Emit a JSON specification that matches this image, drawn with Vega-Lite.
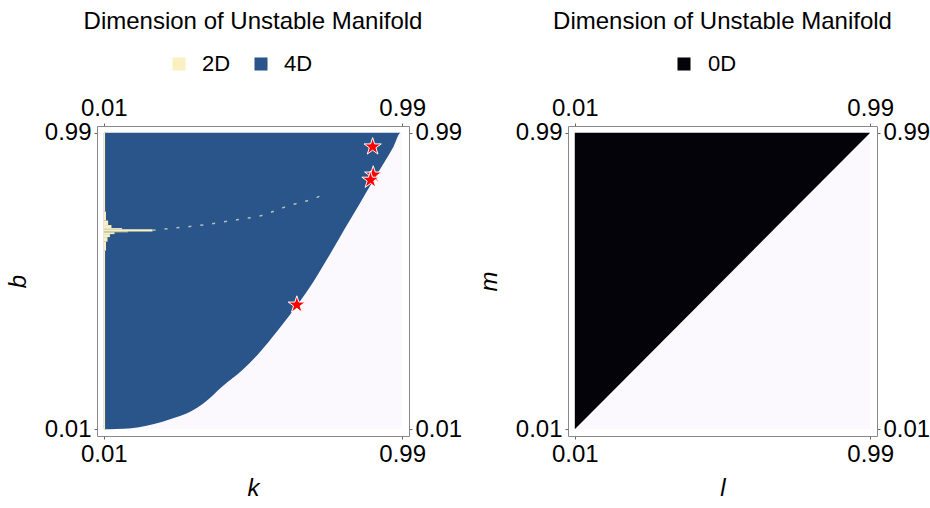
{
  "$schema": "https://vega.github.io/schema/vega-lite/v6.json",
  "padding": {"left": 6, "top": 10, "right": 0, "bottom": 4},
  "spacing": 15,
  "config": {
    "font": "Liberation Sans, Arial, Helvetica, sans-serif",
    "view": {"stroke": null},
    "axis": {
      "grid": false,
      "labelFontSize": 24,
      "labelColor": "#000000",
      "labelFont": "Liberation Sans, Arial, Helvetica, sans-serif",
      "labelFlush": false,
      "labelOverlap": false,
      "domainColor": "#888888",
      "domainWidth": 1,
      "tickColor": "#666666",
      "tickSize": 3,
      "labelPadding": 3,
      "titleFont": "Liberation Sans, Arial, Helvetica, sans-serif",
      "titleFontSize": 24,
      "titleFontStyle": "italic",
      "titleFontWeight": "normal",
      "titleColor": "#000000"
    },
    "title": {"fontSize": 24, "fontWeight": "normal", "color": "#000000", "font": "Liberation Sans, Arial, Helvetica, sans-serif"},
    "legend": {"labelFontSize": 22, "labelColor": "#000000", "labelFont": "Liberation Sans, Arial, Helvetica, sans-serif"}
  },
  "resolve": {"scale": {"color": "independent"}, "legend": {"color": "independent"}},
  "hconcat": [
    {
      "width": 312,
      "height": 310,
      "title": {"text": "Dimension of Unstable Manifold", "anchor": "middle", "offset": 19},
      "resolve": {"axis": {"x": "independent", "y": "independent"}},
      "layer": [
        {
          "data": {"values": [{"k0": 0.01, "k1": 0.99, "b0": 0.01, "b1": 0.99}]},
          "mark": {"type": "rect", "color": "#fbf9fd"},
          "encoding": {
            "x": {"field": "k0", "type": "quantitative", "scale": {"domain": [-0.0125, 1.0125], "nice": false, "zero": false}, "axis": {"orient": "bottom", "title": "k", "titlePadding": 10, "values": [0.01, 0.99], "format": ".2f"}},
            "x2": {"field": "k1"},
            "y": {"field": "b0", "type": "quantitative", "scale": {"domain": [-0.0125, 1.0125], "nice": false, "zero": false}, "axis": {"orient": "left", "title": "b", "titlePadding": 14, "values": [0.01, 0.99], "format": ".2f"}},
            "y2": {"field": "b1"}
          }
        },
        {
          "data": {"values": [{"k0": 0.01, "k1": 0.99, "b0": 0.01, "b1": 0.99}]},
          "mark": {"type": "rect", "opacity": 0},
          "encoding": {
            "x": {"field": "k0", "type": "quantitative", "axis": {"orient": "top", "title": null, "values": [0.01, 0.99], "format": ".2f"}},
            "x2": {"field": "k1"},
            "y": {"field": "b0", "type": "quantitative", "axis": {"orient": "right", "title": null, "values": [0.01, 0.99], "format": ".2f"}},
            "y2": {"field": "b1"}
          }
        },
        {
          "data": {"values": [
            {"k": 0.01, "b": 0.01, "top": 0.99, "dim": "4D"},
            {"k": 0.05, "b": 0.011, "top": 0.99, "dim": "4D"},
            {"k": 0.1, "b": 0.013, "top": 0.99, "dim": "4D"},
            {"k": 0.15, "b": 0.021, "top": 0.99, "dim": "4D"},
            {"k": 0.2, "b": 0.034, "top": 0.99, "dim": "4D"},
            {"k": 0.25, "b": 0.05, "top": 0.99, "dim": "4D"},
            {"k": 0.292, "b": 0.067, "top": 0.99, "dim": "4D"},
            {"k": 0.341, "b": 0.098, "top": 0.99, "dim": "4D"},
            {"k": 0.4, "b": 0.152, "top": 0.99, "dim": "4D"},
            {"k": 0.467, "b": 0.207, "top": 0.99, "dim": "4D"},
            {"k": 0.521, "b": 0.263, "top": 0.99, "dim": "4D"},
            {"k": 0.58, "b": 0.335, "top": 0.99, "dim": "4D"},
            {"k": 0.644, "b": 0.418, "top": 0.99, "dim": "4D"},
            {"k": 0.7, "b": 0.5, "top": 0.99, "dim": "4D"},
            {"k": 0.751, "b": 0.585, "top": 0.99, "dim": "4D"},
            {"k": 0.8, "b": 0.67, "top": 0.99, "dim": "4D"},
            {"k": 0.85, "b": 0.755, "top": 0.99, "dim": "4D"},
            {"k": 0.882, "b": 0.81, "top": 0.99, "dim": "4D"},
            {"k": 0.93, "b": 0.89, "top": 0.99, "dim": "4D"},
            {"k": 0.962, "b": 0.945, "top": 0.99, "dim": "4D"},
            {"k": 0.985, "b": 0.99, "top": 0.99, "dim": "4D"},
            {"k": 0.99, "b": 0.99, "top": 0.99, "dim": "4D"}
          ]},
          "mark": {"type": "area", "interpolate": "monotone"},
          "encoding": {
            "x": {"field": "k", "type": "quantitative", "axis": null},
            "y": {"field": "b", "type": "quantitative", "axis": null, "stack": null},
            "y2": {"field": "top"},
            "color": {
              "field": "dim", "type": "nominal",
              "scale": {"domain": ["2D", "4D"], "range": ["#fbf0c0", "#29558a"]},
              "legend": {"orient": "none", "legendX": 71, "legendY": -73, "direction": "horizontal", "title": null, "symbolType": "square", "symbolSize": 170, "symbolStrokeWidth": 0, "columnPadding": 19, "labelOffset": 12}
            }
          }
        },
        {
          "data": {"values": [
            {"b0": 0.01, "b1": 0.6, "kedge": 0.014, "k0": 0.01, "dim": "2D"},
            {"b0": 0.6, "b1": 0.63, "kedge": 0.017, "k0": 0.01, "dim": "2D"},
            {"b0": 0.63, "b1": 0.645, "kedge": 0.022, "k0": 0.01, "dim": "2D"},
            {"b0": 0.645, "b1": 0.655, "kedge": 0.03, "k0": 0.01, "dim": "2D"},
            {"b0": 0.655, "b1": 0.661, "kedge": 0.045, "k0": 0.01, "dim": "2D"},
            {"b0": 0.661, "b1": 0.664, "kedge": 0.09, "k0": 0.01, "dim": "2D"},
            {"b0": 0.664, "b1": 0.671, "kedge": 0.17, "k0": 0.01, "dim": "2D"},
            {"b0": 0.671, "b1": 0.675, "kedge": 0.07, "k0": 0.01, "dim": "2D"},
            {"b0": 0.675, "b1": 0.685, "kedge": 0.035, "k0": 0.01, "dim": "2D"},
            {"b0": 0.685, "b1": 0.7, "kedge": 0.024, "k0": 0.01, "dim": "2D"},
            {"b0": 0.7, "b1": 0.73, "kedge": 0.017, "k0": 0.01, "dim": "2D"},
            {"b0": 0.73, "b1": 0.99, "kedge": 0.014, "k0": 0.01, "dim": "2D"}
          ]},
          "mark": {"type": "rect"},
          "encoding": {
            "y": {"field": "b0", "type": "quantitative", "axis": null},
            "y2": {"field": "b1"},
            "x": {"field": "k0", "type": "quantitative", "axis": null},
            "x2": {"field": "kedge"},
            "color": {"field": "dim", "type": "nominal"}
          }
        },
        {
          "data": {"values": [
            {"k": 0.17, "b": 0.668},
            {"k": 0.199, "b": 0.671},
            {"k": 0.325, "b": 0.684},
            {"k": 0.456, "b": 0.704},
            {"k": 0.521, "b": 0.715},
            {"k": 0.62, "b": 0.75},
            {"k": 0.707, "b": 0.775},
            {"k": 0.74, "b": 0.79}
          ]},
          "mark": {"type": "line", "color": "#b8c2b0", "strokeWidth": 1.5, "strokeDash": [3, 9], "interpolate": "monotone"},
          "encoding": {
            "x": {"field": "k", "type": "quantitative", "axis": null},
            "y": {"field": "b", "type": "quantitative", "axis": null}
          }
        },
        {
          "data": {"values": [
            {"k": 0.893, "b": 0.944},
            {"k": 0.895, "b": 0.851},
            {"k": 0.886, "b": 0.834},
            {"k": 0.644, "b": 0.421}
          ]},
          "mark": {"type": "point", "shape": "M0,-1L0.2245,-0.309L0.951,-0.309L0.363,0.118L0.588,0.809L0,0.382L-0.588,0.809L-0.363,0.118L-0.951,-0.309L-0.2245,-0.309Z", "filled": true, "fill": "#ff0000", "stroke": "#ffffff", "strokeWidth": 1, "opacity": 1, "size": 330},
          "encoding": {
            "x": {"field": "k", "type": "quantitative", "axis": null},
            "y": {"field": "b", "type": "quantitative", "axis": null}
          }
        }
      ]
    },
    {
      "width": 309,
      "height": 310,
      "title": {"text": "Dimension of Unstable Manifold", "anchor": "middle", "offset": 19},
      "resolve": {"axis": {"x": "independent", "y": "independent"}},
      "layer": [
        {
          "data": {"values": [{"l0": 0.01, "l1": 0.99, "m0": 0.01, "m1": 0.99}]},
          "mark": {"type": "rect", "color": "#fbf9fd"},
          "encoding": {
            "x": {"field": "l0", "type": "quantitative", "scale": {"domain": [-0.0125, 1.0125], "nice": false, "zero": false}, "axis": {"orient": "bottom", "title": "l", "titlePadding": 10, "values": [0.01, 0.99], "format": ".2f"}},
            "x2": {"field": "l1"},
            "y": {"field": "m0", "type": "quantitative", "scale": {"domain": [-0.0125, 1.0125], "nice": false, "zero": false}, "axis": {"orient": "left", "title": "m", "titlePadding": 14, "values": [0.01, 0.99], "format": ".2f"}},
            "y2": {"field": "m1"}
          }
        },
        {
          "data": {"values": [{"l0": 0.01, "l1": 0.99, "m0": 0.01, "m1": 0.99}]},
          "mark": {"type": "rect", "opacity": 0},
          "encoding": {
            "x": {"field": "l0", "type": "quantitative", "axis": {"orient": "top", "title": null, "values": [0.01, 0.99], "format": ".2f"}},
            "x2": {"field": "l1"},
            "y": {"field": "m0", "type": "quantitative", "axis": {"orient": "right", "title": null, "values": [0.01, 0.99], "format": ".2f"}},
            "y2": {"field": "m1"}
          }
        },
        {
          "data": {"values": [
            {"l": 0.01, "m": 0.01, "top": 0.99, "dim": "0D"},
            {"l": 0.99, "m": 0.99, "top": 0.99, "dim": "0D"}
          ]},
          "mark": {"type": "area"},
          "encoding": {
            "x": {"field": "l", "type": "quantitative", "axis": null},
            "y": {"field": "m", "type": "quantitative", "axis": null, "stack": null},
            "y2": {"field": "top"},
            "color": {
              "field": "dim", "type": "nominal",
              "scale": {"domain": ["0D"], "range": ["#05030a"]},
              "legend": {"orient": "none", "legendX": 105, "legendY": -73, "direction": "horizontal", "title": null, "symbolType": "square", "symbolSize": 170, "symbolStrokeWidth": 0, "labelOffset": 13}
            }
          }
        }
      ]
    }
  ]
}
